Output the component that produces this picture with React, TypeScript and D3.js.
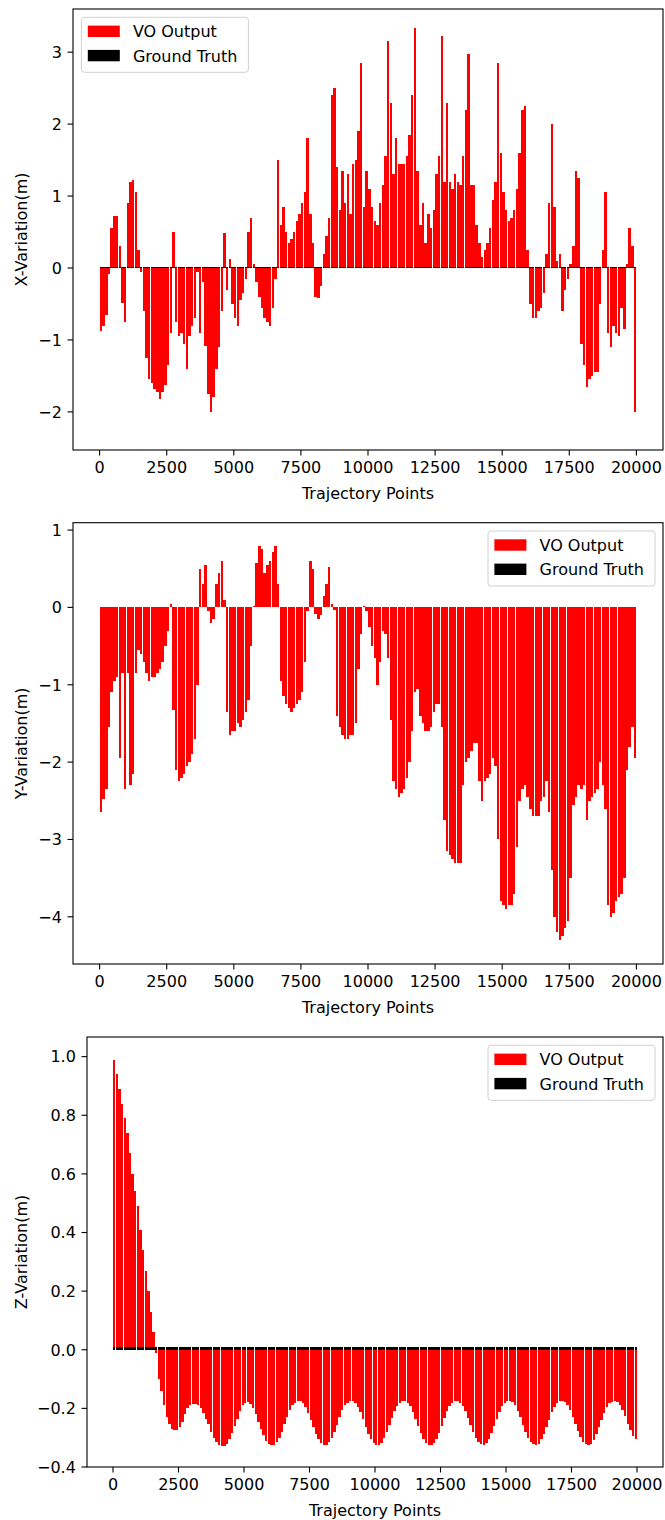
import React from "react";
import * as d3 from "d3";

// ---------- data ----------
const barCount = 200;
const trajectoryStep = 100;
const trajectoryPoints = d3.range(barCount).map((i) => 50 + i * trajectoryStep);

const xTicks = [0, 2500, 5000, 7500, 10000, 12500, 15000, 17500, 20000];

const voX = [
  -0.88, -0.8, -0.65, -0.08, 0.55, 0.72, 0.72, 0.3, -0.48, -0.75,
  0.9, 1.2, 1.22, 1.05, 0.25, -0.05, -0.6, -1.25, -1.55, -1.6,
  -1.68, -1.72, -1.82, -1.72, -1.62, -1.35, -0.9, 0.5, -0.75, -0.95,
  -0.9, -1.05, -1.4, -0.95, -0.8, -0.7, -0.05, -0.9, -0.2, -1.08,
  -1.75, -2.0, -1.8, -1.4, -1.1, -0.6, 0.48, -0.3, 0.12, -0.5,
  -0.7, -0.8, -0.45, -0.35, -0.15, 0.5, 0.7, 0.05, -0.2, -0.4,
  -0.55, -0.7, -0.75, -0.8, -0.55, -0.15, 1.5, 0.6, 0.85, 0.5,
  0.35, 0.4, 0.5, 0.65, 0.75, 0.9, 1.05, 1.8, 0.75, 0.35,
  -0.4, -0.42, -0.25, 0.2, 0.45, 0.7, 2.4, 2.5, 1.4, 0.8,
  1.35, 0.9, 1.3, 0.75, 1.45, 1.5, 1.9, 2.85, 0.85, 1.35,
  1.1, 0.85, 0.65, 0.6, 0.9, 1.15, 1.55, 3.15, 2.3, 1.3,
  1.8, 1.45, 1.45, 1.45, 1.55, 1.85, 2.4, 3.33, 1.35, 0.6,
  0.9, 0.35, 0.75, 0.55, 0.8, 1.3, 1.55, 3.22, 1.2, 2.3,
  1.2, 1.1, 1.3, 1.2, 1.15, 1.55, 2.2, 2.97, 1.15, 1.15,
  0.6, 0.35, 0.15, 0.25, 0.35, 0.55, 0.95, 1.2, 2.85, 1.6,
  1.05, 0.8, 0.65, 0.7, 0.8, 1.1, 1.6, 2.2, 2.25, 0.25,
  -0.5, -0.7, -0.7, -0.6, -0.55, -0.35, 0.2, 0.9, 2.0, 0.85,
  0.1, 0.2, -0.6, -0.3, -0.15, 0.05, 0.3, 1.35, 1.25, -1.05,
  -1.35, -1.65, -1.55, -1.5, -1.45, -1.45, -0.5, 0.25, 1.05, -0.9,
  -1.1, -0.8, -0.9, -0.95, -0.55, -0.85, 0.05, 0.55, 0.3, -2.0,
];

const voY = [
  -2.65, -2.48, -2.35, -1.55, -1.1, -0.95, -0.9, -1.95, -0.85, -2.35,
  -0.85, -2.3, -2.15, -0.85, -0.55, -0.6, -0.7, -0.85, -0.95, -0.9,
  -0.9, -0.85, -0.8, -0.7, -0.5, -0.3, 0.05, -1.33, -2.1, -2.25,
  -2.2, -2.15, -2.05, -2.0, -1.9, -1.7, -1.0, 0.5, 0.3, 0.55,
  -0.05, -0.2, -0.15, 0.3, 0.45, 0.6, 0.1, -1.35, -1.65, -1.6,
  -1.6, -1.5, -1.55, -1.45, -1.35, -1.2, -0.5, 0.02, 0.58, 0.8,
  0.75, 0.45, 0.55, 0.6, 0.72, 0.8, 0.3, -0.95, -1.15, -1.25,
  -1.3, -1.35, -1.3, -1.25, -1.2, -1.1, -0.7, -0.05, 0.6, 0.5,
  -0.08, -0.15, -0.1, 0.15, 0.3, 0.52, 0.05, -0.03, -1.4, -1.55,
  -1.65, -1.7, -1.7, -1.65, -1.65, -1.5, -0.8, -0.35, 0.02, -0.05,
  -0.25, -0.5, -0.65, -1.0, -0.7, -0.3, -0.35, -0.65, -1.45, -2.25,
  -2.35, -2.45, -2.4, -2.35, -2.2, -2.0, -1.6, -1.1, -1.05, -1.4,
  -1.5, -1.6, -1.6, -1.55, -1.35, -1.25, -1.25, -1.55, -2.75, -3.15,
  -3.2, -3.25, -3.3, -3.3, -3.3, -2.3, -2.0, -1.95, -1.85, -1.75,
  -1.75, -2.25, -2.5, -2.25, -2.2, -2.15, -1.95, -2.05, -3.0, -3.8,
  -3.85, -3.9, -3.85, -3.85, -3.7, -3.1, -2.5, -2.35, -2.3, -2.45,
  -2.6, -2.7, -2.7, -2.7, -2.5, -2.45, -2.25, -2.65, -3.4, -4.0,
  -4.2, -4.3, -4.25, -4.15, -4.05, -3.5, -2.55, -2.45, -2.3, -2.35,
  -2.3, -2.75, -2.5, -2.45, -2.4, -2.35, -2.0, -2.3, -2.6, -3.85,
  -4.0, -3.95, -3.8, -3.75, -3.7, -3.5, -2.1, -1.8, -1.55, -1.95,
];

const voZ = [
  0.99, 0.94, 0.89, 0.84, 0.79, 0.74, 0.67, 0.6, 0.54, 0.49,
  0.41, 0.34, 0.27, 0.2, 0.13, 0.06, -0.01, -0.1, -0.14, -0.19,
  -0.23, -0.255, -0.27, -0.275, -0.275, -0.265, -0.245, -0.22, -0.2, -0.19,
  -0.185, -0.186, -0.19, -0.2, -0.215, -0.235, -0.255, -0.28, -0.3, -0.315,
  -0.325, -0.33, -0.33, -0.32, -0.305, -0.285, -0.26, -0.235, -0.21, -0.19,
  -0.18, -0.178, -0.185, -0.2, -0.22, -0.245, -0.27, -0.29, -0.31, -0.32,
  -0.325, -0.325, -0.315, -0.3, -0.28, -0.255, -0.23, -0.205, -0.19, -0.18,
  -0.176, -0.175, -0.182, -0.195, -0.215, -0.24, -0.265, -0.288, -0.306, -0.318,
  -0.324, -0.325, -0.316, -0.3, -0.28, -0.256, -0.231, -0.207, -0.19, -0.18,
  -0.176, -0.175, -0.181, -0.194, -0.213, -0.237, -0.262, -0.286, -0.305, -0.318,
  -0.324, -0.325, -0.317, -0.302, -0.282, -0.258, -0.233, -0.209, -0.191, -0.18,
  -0.176, -0.175, -0.18, -0.192, -0.211, -0.235, -0.26, -0.284, -0.304, -0.317,
  -0.324, -0.325, -0.318, -0.303, -0.283, -0.259, -0.234, -0.21, -0.192, -0.181,
  -0.176, -0.175, -0.18, -0.191, -0.21, -0.233, -0.258, -0.282, -0.302, -0.316,
  -0.323, -0.325, -0.319, -0.305, -0.285, -0.261, -0.236, -0.212, -0.193, -0.181,
  -0.176, -0.175, -0.179, -0.19, -0.208, -0.231, -0.256, -0.28, -0.3, -0.315,
  -0.323, -0.325, -0.32, -0.306, -0.287, -0.263, -0.238, -0.214, -0.195, -0.182,
  -0.176, -0.175, -0.178, -0.189, -0.207, -0.229, -0.254, -0.278, -0.299, -0.314,
  -0.322, -0.325, -0.32, -0.307, -0.288, -0.265, -0.24, -0.216, -0.196, -0.183,
  -0.177, -0.175, -0.178, -0.188, -0.205, -0.227, -0.252, -0.275, -0.293, -0.305,
];

// ground truth per trajectory point (flat, ~0.011 m above zero)
const gtLevel = 0.011;
const gtX = voX.map(() => gtLevel);
const gtY = voY.map(() => gtLevel);
const gtZ = voZ.map(() => gtLevel);

const yTicksX = [-2, -1, 0, 1, 2, 3];
const yTicksY = [-4, -3, -2, -1, 0, 1];
const yTicksZ = [-0.4, -0.2, 0, 0.2, 0.4, 0.6, 0.8, 1.0];

const legendLabels = ["VO Output", "Ground Truth"];
const seriesColors = ["#ff0000", "#000000"];
const xLabel = "Trajectory Points";

// ---------- layout ----------
const W = 665;
const H = 1520;
const FONT = "'DejaVu Sans', 'Liberation Sans', sans-serif";
const FS = 16;
const X_DOMAIN: [number, number] = [-992, 20992];
const BAR_WIDTH = 90;

type PanelProps = {
  vo: number[];
  gt: number[];
  frame: { left: number; right: number; top: number; bottom: number };
  yDomain: [number, number];
  yTicks: number[];
  fmt: (v: number) => string;
  legendSide: "left" | "right";
  yLabel: string;
};

function Panel({ vo, gt, frame, yDomain, yTicks, fmt, legendSide, yLabel }: PanelProps) {
  const x = d3.scaleLinear().domain(X_DOMAIN).range([frame.left, frame.right]);
  const y = d3.scaleLinear().domain(yDomain).range([frame.bottom, frame.top]);
  const bw = x(BAR_WIDTH) - x(0);
  const y0 = y(0);
  const tickLen = 5.5;
  const pad = 5.6;

  const bar = (t: number, v: number, color: string, key: string) => {
    const yv = y(v);
    return (
      <rect
        key={key}
        x={x(t) - bw / 2}
        y={Math.min(yv, y0)}
        width={bw}
        height={Math.abs(yv - y0)}
        fill={color}
      />
    );
  };

  const legW = 167;
  const legH = 55;
  const legX = legendSide === "left" ? frame.left + 8.4 : frame.right - 8 - legW;
  const legY = frame.top + 8.3;

  return (
    <g>
      <g shapeRendering="crispEdges">
        {trajectoryPoints.map((t, i) => bar(t, vo[i], seriesColors[0], `vo${i}`))}
      </g>
      <g shapeRendering="crispEdges">
        {trajectoryPoints.map((t, i) => bar(t, gt[i], seriesColors[1], `gt${i}`))}
      </g>

      <rect
        x={frame.left}
        y={frame.top}
        width={frame.right - frame.left}
        height={frame.bottom - frame.top}
        fill="none"
        stroke="#000"
        strokeWidth={1.1}
      />

      {xTicks.map((t) => (
        <g key={`xt${t}`}>
          <line x1={x(t)} x2={x(t)} y1={frame.bottom} y2={frame.bottom + tickLen} stroke="#000" strokeWidth={1.1} />
          <text
            x={x(t)}
            y={frame.bottom + tickLen + pad + FS * 0.76}
            textAnchor="middle"
            fontSize={FS}
            fontFamily={FONT}
            fill="#000"
          >
            {String(t)}
          </text>
        </g>
      ))}

      {yTicks.map((v) => (
        <g key={`yt${v}`}>
          <line x1={frame.left - tickLen} x2={frame.left} y1={y(v)} y2={y(v)} stroke="#000" strokeWidth={1.1} />
          <text
            x={frame.left - tickLen - pad}
            y={y(v) + FS * 0.36}
            textAnchor="end"
            fontSize={FS}
            fontFamily={FONT}
            fill="#000"
          >
            {fmt(v)}
          </text>
        </g>
      ))}

      <text
        x={(frame.left + frame.right) / 2}
        y={frame.bottom + 43 + FS * 0.36}
        textAnchor="middle"
        fontSize={FS}
        fontFamily={FONT}
        fill="#000"
      >
        {xLabel}
      </text>

      <text
        transform={`translate(${21 + FS * 0.36}, ${(frame.top + frame.bottom) / 2}) rotate(-90)`}
        textAnchor="middle"
        fontSize={FS}
        fontFamily={FONT}
        fill="#000"
      >
        {yLabel}
      </text>

      <g>
        <rect
          x={legX}
          y={legY}
          width={legW}
          height={legH}
          rx={3}
          fill="#fff"
          fillOpacity={0.8}
          stroke="#d0d0d0"
          strokeWidth={1}
        />
        {legendLabels.map((lab, i) => {
          const py = legY + 8.3 + i * 24.3;
          return (
            <g key={lab}>
              <rect x={legX + 6.4} y={py} width={32} height={11.4} fill={seriesColors[i]} />
              <text x={legX + 51.5} y={py + 11.6} fontSize={FS} fontFamily={FONT} fill="#000">
                {lab}
              </text>
            </g>
          );
        })}
      </g>
    </g>
  );
}

export default function App() {
  const intFmt = d3.format("d");
  const decFmt = d3.format(".1f");
  return (
    <svg
      width={W}
      height={H}
      viewBox={`0 0 ${W} ${H}`}
      style={{ position: "absolute", left: 0, top: 0, display: "block", background: "#fff" }}
    >
      <rect width={W} height={H} fill="#fff" />
      <Panel
        vo={voX}
        gt={gtX}
        frame={{ left: 73, right: 663, top: 9, bottom: 450 }}
        yDomain={[-2.53, 3.6]}
        yTicks={yTicksX}
        fmt={intFmt}
        legendSide="left"
        yLabel="X-Variation(m)"
      />
      <Panel
        vo={voY}
        gt={gtY}
        frame={{ left: 73, right: 663, top: 522.7, bottom: 964 }}
        yDomain={[-4.61, 1.095]}
        yTicks={yTicksY}
        fmt={intFmt}
        legendSide="right"
        yLabel="Y-Variation(m)"
      />
      <Panel
        vo={voZ}
        gt={gtZ}
        frame={{ left: 87, right: 663, top: 1037, bottom: 1467 }}
        yDomain={[-0.4, 1.067]}
        yTicks={yTicksZ}
        fmt={decFmt}
        legendSide="right"
        yLabel="Z-Variation(m)"
      />
    </svg>
  );
}
